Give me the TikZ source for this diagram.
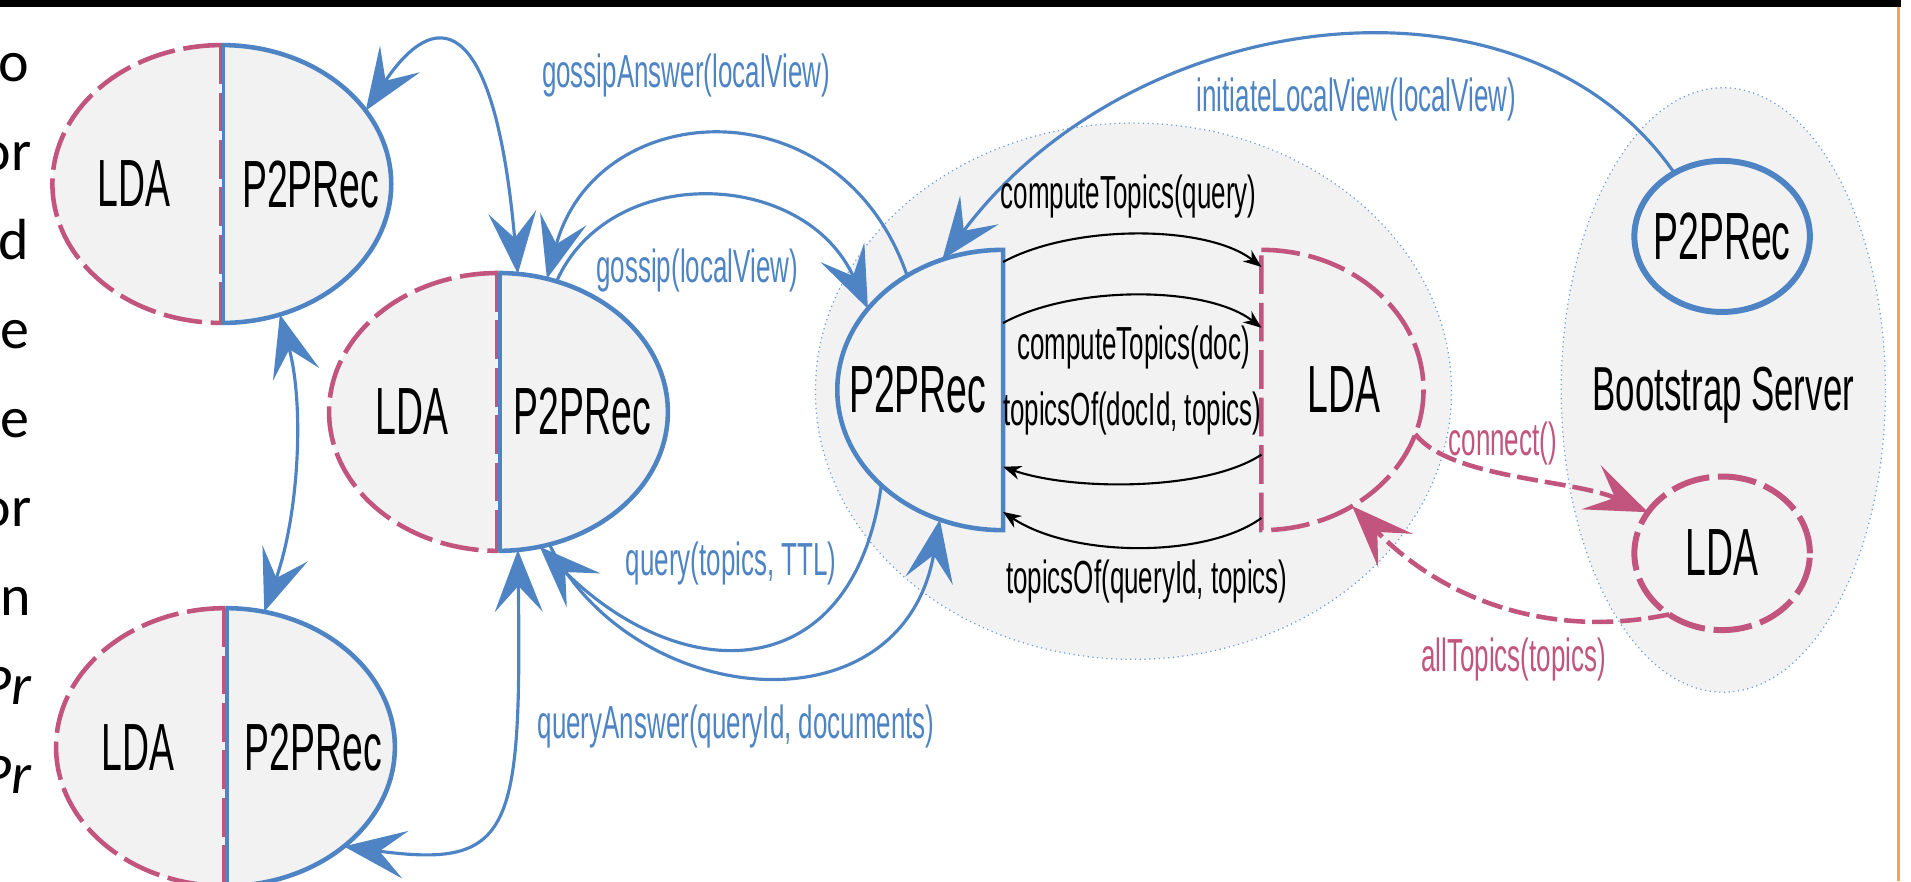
\documentclass[tikz,border=0pt]{standalone}
\usepackage{fontspec}
\setmainfont{Carlito}
\newfontfamily\diagfont[FakeStretch=0.56]{Liberation Sans}
\usetikzlibrary{arrows.meta,shapes.geometric}
\definecolor{recblue}{HTML}{4F84C4}
\definecolor{ldapink}{HTML}{C2557D}
\definecolor{peerfill}{HTML}{F2F2F2}
\definecolor{slideorange}{HTML}{F7A24F}

\begin{document}
\begin{tikzpicture}[x=0.12188mm, y=0.12188mm,
  every node/.style={inner sep=0pt, outer sep=0pt},
  >={Stealth[length=6.2mm, width=4.8mm, inset=2.6mm]},
  area/.style={ellipse, fill=peerfill, draw=recblue!80, line width=0.35pt, densely dotted},
  peer/.style={ellipse, fill=peerfill, minimum width=33.88mm, minimum height=27.79mm},
  halfnode/.style={ellipse, minimum height=28.03mm},
  recline/.style={draw=recblue, line width=1.3pt},
  ldaline/.style={draw=ldapink, line width=1.3pt, dash pattern=on 11pt off 2.5pt},
  part/.style={font=\diagfont\fontsize{19}{22}\selectfont},
  msg/.style={font=\diagfont\fontsize{13.2}{16}\selectfont},
  bluemsg/.style={msg, text=recblue},
  pinkmsg/.style={msg, text=ldapink},
  call/.style={recblue, line width=0.9pt},
  ldacall/.style={ldapink, line width=1.3pt, dash pattern=on 6pt off 2pt},
  topiccall/.style={black, line width=0.6pt, -{Stealth[length=1.8mm, width=1.4mm]}},
  slide/.style={font=\fontsize{16.5}{25}\selectfont, anchor=base east}]
  \useasboundingbox (0,0) rectangle (1568,723);
  \clip (0,0) rectangle (1568,723);

  % slide frame and the cut-off text column
  \fill (0,717) rectangle (1560,723);
  \draw[slideorange, line width=0.9pt] (1558,0) -- (1558,717);
  \node[slide] (t1) at (24,656) {o};
  \node[slide] (t2) at (26,583) {or};
  \node[slide] (t3) at (24,510) {d};
  \node[slide] (t4) at (24,437) {e};
  \node[slide] (t5) at (24,364) {e};
  \node[slide] (t6) at (26,291) {or};
  \node[slide] (t7) at (25,218) {n};
  \node[slide] (t8) at (26,145) {\itshape Pr};
  \node[slide] (t9) at (26,72) {\itshape Pr};

  \node[area, minimum width=63.62mm, minimum height=53.63mm] (selfArea) at (930,402) {};
  \node[area, minimum width=32.42mm, minimum height=60.45mm] (bootArea) at (1414,403) {};

  % peers
  \node[peer] (peerA) at (182,572) {};
  \draw[ldaline] (peerA.north) arc[start angle=90, end angle=270, x radius=139, y radius=114];
  \draw[recline] (peerA.north) arc[start angle=90, end angle=-90, x radius=139, y radius=114];
  \draw[recblue, line width=0.9pt] ([xshift=0.45pt]peerA.north) -- ([xshift=0.45pt]peerA.south);
  \draw[ldapink, line width=0.9pt, dash pattern=on 11pt off 2.5pt] ([xshift=-0.45pt]peerA.north) -- ([xshift=-0.45pt]peerA.south);
  \node[part] (ldaA) at (110,572) {LDA};
  \node[part] (recA) at (255,572) {P2PRec};

  \node[peer] (peerB) at (409,385) {};
  \draw[ldaline] (peerB.north) arc[start angle=90, end angle=270, x radius=139, y radius=114];
  \draw[recline] (peerB.north) arc[start angle=90, end angle=-90, x radius=139, y radius=114];
  \draw[recblue, line width=0.9pt] ([xshift=0.45pt]peerB.north) -- ([xshift=0.45pt]peerB.south);
  \draw[ldapink, line width=0.9pt, dash pattern=on 11pt off 2.5pt] ([xshift=-0.45pt]peerB.north) -- ([xshift=-0.45pt]peerB.south);
  \node[part] (ldaB) at (338,385) {LDA};
  \node[part] (recB) at (478,385) {P2PRec};

  \node[peer] (peerC) at (185,110) {};
  \draw[ldaline] (peerC.north) arc[start angle=90, end angle=270, x radius=139, y radius=114];
  \draw[recline] (peerC.north) arc[start angle=90, end angle=-90, x radius=139, y radius=114];
  \draw[recblue, line width=0.9pt] ([xshift=0.45pt]peerC.north) -- ([xshift=0.45pt]peerC.south);
  \draw[ldapink, line width=0.9pt, dash pattern=on 11pt off 2.5pt] ([xshift=-0.45pt]peerC.north) -- ([xshift=-0.45pt]peerC.south);
  \node[part] (ldaC) at (113,110) {LDA};
  \node[part] (recC) at (257,110) {P2PRec};

  % the peer that is shown opened up
  \node[halfnode, minimum width=33.15mm] (selfRec) at (823,403) {};
  \draw[recline] (selfRec.north) arc[start angle=90, end angle=270, x radius=136, y radius=115] -- cycle;
  \node[part] (recSelf) at (753,403) {P2PRec};
  \node[halfnode, minimum width=32.42mm] (selfLda) at (1035,403) {};
  \draw[ldaline] (selfLda.north) arc[start angle=90, end angle=-90, x radius=133, y radius=115] -- cycle;
  \node[part] (ldaSelf) at (1103,403) {LDA};

  % bootstrap server
  \node[ellipse, recline, line width=1.7pt, minimum width=17.55mm, minimum height=15.11mm] (bootRec) at (1413,529) {};
  \node[part] (recBoot) at (1413,529) {P2PRec};
  \node[ellipse, ldaline, line width=1.7pt, minimum width=17.55mm, minimum height=15.36mm] (bootLda) at (1413,269) {};
  \node[part] (ldaBoot) at (1413,270) {LDA};
  \node[part, font=\diagfont\fontsize{17.7}{20}\selectfont] (bootName) at (1414,399) {Bootstrap Server};

  % gossip and queries
  \draw[call, <->] (peerA.27) .. controls (355,715) and (405,720) .. (peerB.82);
  \draw[call, <->] (peerA.-66) .. controls (250,390) and (245,300) .. (peerC.74);
  \draw[call, <->] (peerC.-40) .. controls (420,10) and (428,40) .. (peerB.-82);
  \draw[call, ->] (selfRec.130) .. controls (690,655) and (490,645) .. (peerB.70);
  \draw[call, ->] (peerB.66) .. controls (500,590) and (660,585) .. (selfRec.149);
  \draw[call, ->] (selfRec.218) .. controls (700,158) and (560,158) .. (peerB.-73);
  \draw[call, ->] (peerB.-69) .. controls (520,140) and (740,120) .. (selfRec.244);
  \draw[call, ->] (bootRec.127) .. controls (1250,760) and (930,720) .. (selfRec.115);

  \node[bluemsg] (gossipAnswerLbl) at (563,661) {gossipAnswer(localView)};
  \node[bluemsg] (gossipLbl) at (572,501) {gossip(localView)};
  \node[bluemsg] (queryLbl) at (600,261) {query(topics, TTL)};
  \node[bluemsg] (queryAnswerLbl) at (604,127) {queryAnswer(queryId, documents)};
  \node[bluemsg] (initLbl) at (1113,641) {initiateLocalView(localView)};

  % inside one peer
  \draw[topiccall] ([yshift=12.8mm]selfRec.center) .. controls (880,539) and (990,539) .. ([yshift=12.31mm]selfLda.center);
  \draw[topiccall] ([yshift=6.7mm]selfRec.center) .. controls (880,489) and (990,489) .. ([yshift=6.22mm]selfLda.center);
  \draw[topiccall] ([yshift=-6.46mm]selfLda.center) .. controls (990,320) and (880,320) .. ([yshift=-7.68mm]selfRec.center);
  \draw[topiccall] ([yshift=-12.8mm]selfLda.center) .. controls (990,265) and (880,265) .. ([yshift=-12.19mm]selfRec.center);
  \node[msg] (cqLbl) at (926,562) {computeTopics(query)};
  \node[msg] (cdLbl) at (930,438) {computeTopics(doc)};
  \node[msg] (tdLbl) at (929,384) {topicsOf(docId, topics)};
  \node[msg] (tqLbl) at (941,246) {topicsOf(queryId, topics)};

  % LDA and the bootstrap server
  \draw[ldacall, ->] (selfLda.-16) .. controls (1190,330) and (1290,330) .. (bootLda.151);
  \draw[ldacall, ->] (bootLda.229) .. controls (1280,200) and (1190,225) .. (selfLda.-52);
  \node[pinkmsg] (connectLbl) at (1233,359) {connect()};
  \node[pinkmsg] (allTopicsLbl) at (1242,182) {allTopics(topics)};
\end{tikzpicture}
\end{document}
